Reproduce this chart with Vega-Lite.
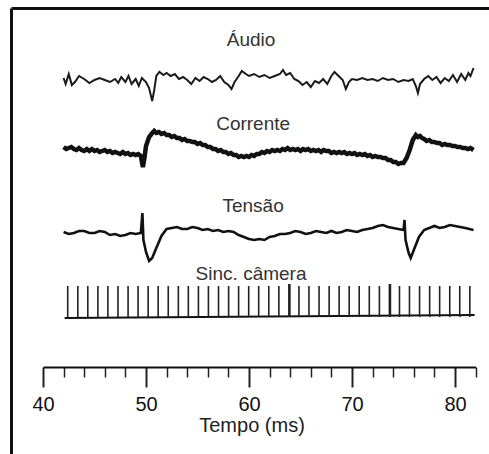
{
  "$schema": "https://vega.github.io/schema/vega-lite/v6.json",
  "width": 478,
  "height": 446,
  "autosize": "none",
  "padding": {"left": 11, "top": 8, "right": 0, "bottom": 0},
  "background": "white",
  "config": {"view": {"stroke": null}, "axis": {"grid": false}},
  "datasets": {
    "audio": [
      {"t":42.0,"v":78},{"t":42.2,"v":84},{"t":42.5,"v":74},{"t":42.8,"v":85},{"t":43.1,"v":82},{"t":43.5,"v":76},{"t":44.0,"v":79},{"t":44.5,"v":83},{"t":45.0,"v":80},{"t":45.5,"v":78},{"t":46.0,"v":80},{"t":46.5,"v":82},{"t":47.0,"v":79},{"t":47.3,"v":83},{"t":47.6,"v":77},{"t":48.0,"v":82},{"t":48.3,"v":76},{"t":48.6,"v":84},{"t":49.0,"v":79},{"t":49.3,"v":86},{"t":49.6,"v":78},{"t":50.0,"v":82},{"t":50.3,"v":88},{"t":50.6,"v":101},{"t":50.8,"v":90},{"t":51.0,"v":76},{"t":51.3,"v":72},{"t":51.7,"v":75},{"t":52.0,"v":73},{"t":52.4,"v":76},{"t":52.8,"v":74},{"t":53.2,"v":79},{"t":53.6,"v":77},{"t":54.0,"v":80},{"t":54.4,"v":84},{"t":54.8,"v":78},{"t":55.2,"v":81},{"t":55.6,"v":77},{"t":56.0,"v":79},{"t":56.4,"v":82},{"t":56.8,"v":80},{"t":57.2,"v":76},{"t":57.6,"v":82},{"t":58.0,"v":85},{"t":58.3,"v":89},{"t":58.6,"v":82},{"t":59.0,"v":76},{"t":59.3,"v":71},{"t":59.7,"v":74},{"t":60.0,"v":76},{"t":60.5,"v":74},{"t":61.0,"v":77},{"t":61.5,"v":75},{"t":62.0,"v":78},{"t":62.5,"v":76},{"t":63.0,"v":74},{"t":63.3,"v":70},{"t":63.6,"v":75},{"t":64.0,"v":73},{"t":64.4,"v":79},{"t":64.8,"v":81},{"t":65.2,"v":85},{"t":65.6,"v":82},{"t":66.0,"v":87},{"t":66.4,"v":81},{"t":66.8,"v":83},{"t":67.2,"v":79},{"t":67.6,"v":84},{"t":68.0,"v":76},{"t":68.3,"v":72},{"t":68.7,"v":76},{"t":69.1,"v":80},{"t":69.4,"v":89},{"t":69.7,"v":82},{"t":70.0,"v":79},{"t":70.5,"v":80},{"t":71.0,"v":78},{"t":71.5,"v":80},{"t":72.0,"v":79},{"t":72.5,"v":81},{"t":73.0,"v":78},{"t":73.5,"v":80},{"t":74.0,"v":79},{"t":74.5,"v":82},{"t":75.0,"v":80},{"t":75.5,"v":81},{"t":75.9,"v":79},{"t":76.2,"v":86},{"t":76.4,"v":93},{"t":76.6,"v":84},{"t":77.0,"v":79},{"t":77.4,"v":76},{"t":77.8,"v":80},{"t":78.2,"v":77},{"t":78.6,"v":83},{"t":79.0,"v":78},{"t":79.4,"v":81},{"t":79.8,"v":75},{"t":80.2,"v":82},{"t":80.6,"v":74},{"t":81.0,"v":80},{"t":81.3,"v":73},{"t":81.5,"v":76},{"t":81.8,"v":68}
    ],
    "corrente": [
      {"t":42.0,"v":147},{"t":42.25,"v":149},{"t":42.5,"v":148},{"t":42.75,"v":147},{"t":43.0,"v":149},{"t":43.25,"v":150},{"t":43.5,"v":148},{"t":43.75,"v":150},{"t":44.0,"v":151},{"t":44.25,"v":149},{"t":44.5,"v":151},{"t":44.75,"v":149},{"t":45.0,"v":151},{"t":45.25,"v":150},{"t":45.5,"v":152},{"t":45.75,"v":151},{"t":46.0,"v":150},{"t":46.25,"v":152},{"t":46.5,"v":151},{"t":46.75,"v":153},{"t":47.0,"v":152},{"t":47.25,"v":153},{"t":47.5,"v":154},{"t":47.75,"v":152},{"t":48.0,"v":154},{"t":48.25,"v":153},{"t":48.5,"v":155},{"t":48.75,"v":154},{"t":49.0,"v":155},{"t":49.25,"v":154},{"t":49.5,"v":156},{"t":49.7,"v":167},{"t":49.85,"v":158},{"t":50.0,"v":146},{"t":50.3,"v":137},{"t":50.6,"v":133},{"t":50.8,"v":131},{"t":51.0,"v":133},{"t":51.25,"v":132},{"t":51.5,"v":134},{"t":51.75,"v":133},{"t":52.0,"v":135},{"t":52.25,"v":135},{"t":52.5,"v":137},{"t":52.75,"v":136},{"t":53.0,"v":138},{"t":53.25,"v":138},{"t":53.5,"v":140},{"t":53.75,"v":139},{"t":54.0,"v":141},{"t":54.25,"v":141},{"t":54.5,"v":142},{"t":54.75,"v":142},{"t":55.0,"v":144},{"t":55.25,"v":143},{"t":55.5,"v":145},{"t":55.75,"v":145},{"t":56.0,"v":147},{"t":56.25,"v":147},{"t":56.5,"v":149},{"t":56.75,"v":149},{"t":57.0,"v":151},{"t":57.25,"v":150},{"t":57.5,"v":152},{"t":57.75,"v":152},{"t":58.0,"v":154},{"t":58.25,"v":153},{"t":58.5,"v":155},{"t":58.75,"v":155},{"t":59.0,"v":157},{"t":59.25,"v":156},{"t":59.5,"v":157},{"t":59.75,"v":156},{"t":60.0,"v":157},{"t":60.25,"v":155},{"t":60.5,"v":156},{"t":60.75,"v":154},{"t":61.0,"v":154},{"t":61.25,"v":152},{"t":61.5,"v":153},{"t":61.75,"v":151},{"t":62.0,"v":152},{"t":62.25,"v":150},{"t":62.5,"v":151},{"t":62.75,"v":150},{"t":63.0,"v":151},{"t":63.25,"v":149},{"t":63.5,"v":150},{"t":63.75,"v":148},{"t":64.0,"v":150},{"t":64.25,"v":149},{"t":64.5,"v":150},{"t":64.75,"v":149},{"t":65.0,"v":151},{"t":65.25,"v":149},{"t":65.5,"v":150},{"t":65.75,"v":149},{"t":66.0,"v":151},{"t":66.25,"v":150},{"t":66.5,"v":151},{"t":66.75,"v":150},{"t":67.0,"v":152},{"t":67.25,"v":150},{"t":67.5,"v":151},{"t":67.75,"v":151},{"t":68.0,"v":153},{"t":68.25,"v":152},{"t":68.5,"v":153},{"t":68.75,"v":152},{"t":69.0,"v":153},{"t":69.25,"v":152},{"t":69.5,"v":154},{"t":69.75,"v":153},{"t":70.0,"v":154},{"t":70.25,"v":153},{"t":70.5,"v":155},{"t":70.75,"v":154},{"t":71.0,"v":155},{"t":71.25,"v":154},{"t":71.5,"v":156},{"t":71.75,"v":155},{"t":72.0,"v":157},{"t":72.25,"v":156},{"t":72.5,"v":157},{"t":72.75,"v":157},{"t":73.0,"v":158},{"t":73.25,"v":158},{"t":73.5,"v":160},{"t":73.75,"v":160},{"t":74.0,"v":162},{"t":74.25,"v":162},{"t":74.5,"v":164},{"t":74.75,"v":163},{"t":75.0,"v":163},{"t":75.3,"v":158},{"t":75.6,"v":150},{"t":75.9,"v":140},{"t":76.2,"v":135},{"t":76.4,"v":137},{"t":76.6,"v":136},{"t":76.8,"v":138},{"t":77.0,"v":139},{"t":77.25,"v":141},{"t":77.5,"v":140},{"t":77.75,"v":142},{"t":78.0,"v":142},{"t":78.25,"v":143},{"t":78.5,"v":143},{"t":78.75,"v":145},{"t":79.0,"v":144},{"t":79.25,"v":145},{"t":79.5,"v":145},{"t":79.75,"v":146},{"t":80.0,"v":146},{"t":80.25,"v":147},{"t":80.5,"v":147},{"t":80.75,"v":148},{"t":81.0,"v":148},{"t":81.25,"v":149},{"t":81.5,"v":148},{"t":81.8,"v":150}
    ],
    "tensao": [
      {"t":42.0,"v":232},{"t":42.5,"v":234},{"t":43.0,"v":233},{"t":43.5,"v":231},{"t":44.0,"v":231},{"t":44.5,"v":233},{"t":45.0,"v":233},{"t":45.5,"v":231},{"t":46.0,"v":232},{"t":46.5,"v":235},{"t":47.0,"v":234},{"t":47.5,"v":236},{"t":48.0,"v":235},{"t":48.5,"v":233},{"t":49.0,"v":234},{"t":49.5,"v":233},{"t":49.65,"v":213},{"t":49.75,"v":240},{"t":50.0,"v":252},{"t":50.3,"v":261},{"t":50.6,"v":258},{"t":51.0,"v":248},{"t":51.5,"v":236},{"t":52.0,"v":229},{"t":52.5,"v":228},{"t":53.0,"v":227},{"t":53.5,"v":229},{"t":54.0,"v":229},{"t":54.5,"v":227},{"t":55.0,"v":228},{"t":55.5,"v":230},{"t":56.0,"v":229},{"t":56.5,"v":231},{"t":57.0,"v":230},{"t":57.5,"v":232},{"t":58.0,"v":231},{"t":58.5,"v":232},{"t":59.0,"v":235},{"t":59.5,"v":237},{"t":60.0,"v":239},{"t":60.5,"v":240},{"t":61.0,"v":239},{"t":61.5,"v":240},{"t":62.0,"v":237},{"t":62.5,"v":236},{"t":63.0,"v":234},{"t":63.5,"v":234},{"t":64.0,"v":233},{"t":64.5,"v":231},{"t":65.0,"v":232},{"t":65.5,"v":234},{"t":66.0,"v":233},{"t":66.5,"v":231},{"t":67.0,"v":232},{"t":67.5,"v":233},{"t":68.0,"v":231},{"t":68.5,"v":233},{"t":69.0,"v":232},{"t":69.5,"v":230},{"t":70.0,"v":231},{"t":70.5,"v":232},{"t":71.0,"v":230},{"t":71.5,"v":229},{"t":72.0,"v":228},{"t":72.5,"v":226},{"t":73.0,"v":225},{"t":73.5,"v":227},{"t":74.0,"v":228},{"t":74.5,"v":229},{"t":75.0,"v":230},{"t":75.1,"v":220},{"t":75.2,"v":240},{"t":75.5,"v":253},{"t":75.7,"v":258},{"t":76.0,"v":250},{"t":76.5,"v":237},{"t":77.0,"v":230},{"t":77.5,"v":228},{"t":78.0,"v":226},{"t":78.5,"v":228},{"t":79.0,"v":227},{"t":79.5,"v":225},{"t":80.0,"v":226},{"t":80.5,"v":227},{"t":81.0,"v":228},{"t":81.8,"v":230}
    ],
    "sinc": [
      {"t":42.40,"v":286},{"t":43.38,"v":286},{"t":44.35,"v":286},{"t":45.33,"v":286},{"t":46.30,"v":286},{"t":47.28,"v":286},{"t":48.26,"v":286},{"t":49.23,"v":286},{"t":50.21,"v":286},{"t":51.18,"v":286},{"t":52.16,"v":286},{"t":53.14,"v":286},{"t":54.11,"v":286},{"t":55.09,"v":286},{"t":56.06,"v":286},{"t":57.04,"v":286},{"t":58.02,"v":286},{"t":58.99,"v":286},{"t":59.97,"v":286},{"t":60.94,"v":286},{"t":61.92,"v":286},{"t":62.90,"v":286},{"t":63.87,"v":284},{"t":63.97,"v":284},{"t":64.85,"v":286},{"t":65.82,"v":286},{"t":66.80,"v":286},{"t":67.78,"v":286},{"t":68.75,"v":286},{"t":69.73,"v":286},{"t":70.70,"v":286},{"t":71.68,"v":286},{"t":72.66,"v":286},{"t":73.63,"v":284},{"t":73.73,"v":284},{"t":74.61,"v":286},{"t":75.58,"v":286},{"t":76.56,"v":286},{"t":77.54,"v":286},{"t":78.51,"v":286},{"t":79.49,"v":286},{"t":80.46,"v":286},{"t":81.44,"v":286}
    ],
    "base": [{"t":42.1,"v":318},{"t":81.9,"v":315}],
    "labels": [
      {"t":60.2,"v":46,"label":"Áudio"},
      {"t":60.4,"v":130,"label":"Corrente"},
      {"t":60.4,"v":212,"label":"Tensão"},
      {"t":60.2,"v":280,"label":"Sinc. câmera"}
    ]
  },
  "layer": [
    {
      "encoding": {
        "x": {"field": "t", "type": "quantitative",
          "scale": {"domain": [40, 82], "range": [32, 464.6], "nice": false, "zero": false},
          "axis": {
            "orient": "bottom", "offset": -87,
            "values": [40,42,44,46,48,50,52,54,56,58,60,62,64,66,68,70,72,74,76,78,80,82],
            "domain": true, "domainColor": "#111", "domainWidth": 2,
            "ticks": true, "tickColor": "#222",
            "tickSize": {"condition": {"test": "datum.value % 10 === 0", "value": 20}, "value": 10},
            "tickWidth": {"condition": {"test": "datum.value % 10 === 0", "value": 2}, "value": 1.5},
            "labelExpr": "datum.value % 10 === 0 ? datum.label : ''",
            "labelFont": "Liberation Sans", "labelFontSize": 20, "labelColor": "#111",
            "labelPadding": 7, "labelFlush": false, "labelOverlap": false, "labelBound": false,
            "title": "Tempo (ms)", "titleFont": "Liberation Sans", "titleFontSize": 20,
            "titleFontWeight": "normal", "titleColor": "#222",
            "titleX": 240.5, "titleY": 64, "titleBaseline": "alphabetic", "titleAlign": "center"
          }
        },
        "y": {"field": "v", "type": "quantitative",
          "scale": {"domain": [8, 454], "reverse": true, "nice": false, "zero": false},
          "axis": {"orient": "left", "domain": true, "domainColor": "#111", "domainWidth": 3,
            "ticks": false, "labels": false, "title": null, "grid": false}
        }
      },
      "layer": [
        {"data": {"name": "audio"}, "mark": {"type": "line", "color": "#1a1a1a", "strokeWidth": 2}},
        {"data": {"name": "corrente"}, "mark": {"type": "line", "color": "#111", "strokeWidth": 4.5}},
        {"data": {"name": "tensao"}, "mark": {"type": "line", "color": "#111", "strokeWidth": 2.6}},
        {"data": {"name": "base"}, "mark": {"type": "line", "color": "#111", "strokeWidth": 2}},
        {"data": {"name": "sinc"}, "mark": {"type": "rule", "color": "#222", "strokeWidth": 1.6},
          "encoding": {"y2": {"datum": 317}}},
        {"data": {"name": "labels"},
          "mark": {"type": "text", "font": "Liberation Sans", "fontSize": 19, "color": "#333", "align": "center", "baseline": "alphabetic"},
          "encoding": {"text": {"field": "label"}}}
      ]
    },
    {
      "data": {"values": [{"u": 0}]},
      "mark": {"type": "point", "opacity": 0},
      "encoding": {
        "x": {"field": "u", "type": "quantitative", "scale": {"domain": [0, 1]},
          "axis": {"orient": "top", "domain": true, "domainColor": "#111", "domainWidth": 3,
            "ticks": false, "labels": false, "title": null, "grid": false}}
      }
    }
  ],
  "resolve": {"scale": {"x": "independent"}, "axis": {"x": "independent"}}
}
